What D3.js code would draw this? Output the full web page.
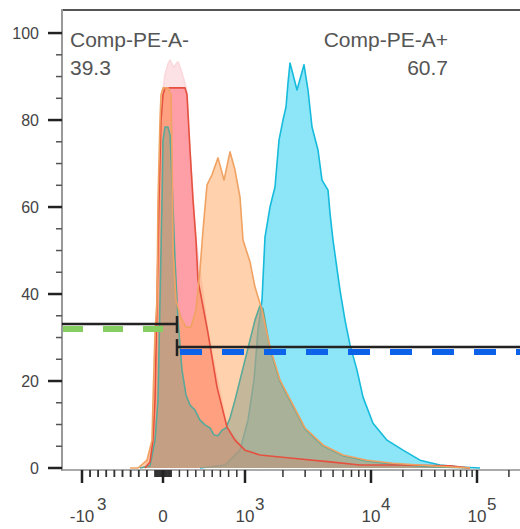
<!DOCTYPE html>
<html>
<head>
<meta charset="UTF-8">
<title>Comp-PE-A histogram overlay</title>
<style>
  body { margin: 0; background: #fff; }
  svg { display: block; font-family: "Liberation Sans", Arial, sans-serif; }
  .axis-lbl { fill: #444; font-size: 16px; }
  .x-lbl { fill: #444; font-size: 17px; }
  .note { fill: #555; font-size: 21px; }
  .hist { stroke-width: 1.6; stroke-linejoin: round; fill: none; }
</style>
</head>
<body>
<svg width="520" height="529"></svg>
<script src="https://cdn.jsdelivr.net/npm/d3@7/dist/d3.min.js"></script>
<script>
// histogram channels (display bins) and % of max
const paleX = [41.5, 45.5, 47.5, 49, 50.5, 51.5, 53, 54, 55, 56, 57, 58, 59.5, 61, 62.5, 64, 67, 73, 82.5, 91.5, 99];
const paleY = [0, 6.4, 38.6, 73.1, 86.9, 90.4, 92.9, 93.8, 92.9, 92.0, 92.9, 93.4, 91.5, 89.2, 86.5, 73.1, 52.4, 31.0, 9.4, 4.1, 0];

const tealX = [39, 44, 46.5, 48, 49, 50, 50.5, 51.5, 53, 54, 55, 56.5, 58, 60, 62, 64, 66.5, 69, 71.5, 74, 76, 78, 80, 82, 84, 86.5, 89, 91.5, 94, 96.5, 99, 100.5, 104, 109, 115.5, 121.5, 130.5, 140.5, 152.5, 165.5, 184, 204];
const tealY = [0, 0.5, 6.4, 15.6, 38.6, 61.6, 75.4, 78.4, 78.4, 76.6, 66.2, 47.8, 34.0, 22.5, 16.8, 14.5, 13.3, 11.0, 9.9, 9.2, 7.6, 7.4, 8.7, 9.2, 11.5, 15.6, 20.2, 24.8, 29.4, 34.0, 37.3, 36.6, 27.4, 19.9, 14.2, 9.0, 5.1, 2.8, 1.6, 0.9, 0.3, 0];

const blueX = [69, 81.5, 89, 93, 96, 98, 100, 101.5, 104, 106.5, 108.5, 110.5, 112, 113, 114, 117.5, 121, 123, 125, 128, 130, 133, 134, 135.5, 139, 141.5, 144, 147.5, 150.5, 155.5, 162.5, 170.5, 179, 189, 199, 209];
const blueY = [0, 0.7, 4.1, 11.0, 20.2, 31.7, 38.6, 53.1, 60.0, 64.6, 75.4, 80.0, 83.0, 88.5, 93.1, 86.9, 92.7, 86.9, 78.4, 73.1, 66.2, 63.9, 58.6, 52.4, 40.9, 34.0, 28.3, 22.5, 16.3, 10.3, 6.4, 4.1, 1.8, 0.7, 0.2, 0];

const orangeX = [34, 38, 42.5, 45, 45.5, 46.5, 47.5, 48, 49, 49.5, 50.5, 53, 54.5, 55, 55.5, 57, 59.5, 62, 64.5, 67, 69, 70.5, 72.5, 75, 78, 81, 84, 86.5, 89, 90.5, 94, 96.5, 100, 104, 109, 115.5, 121.5, 130.5, 140.5, 152.5, 165.5, 184, 204];
const orangeY = [0, 0, 1.8, 6.4, 15.6, 31.0, 38.6, 61.6, 80.0, 85.8, 87.4, 87.4, 85.8, 73.1, 50.1, 38.6, 34.5, 32.4, 32.4, 36.3, 45.5, 54.7, 65.1, 67.4, 71.3, 66.2, 72.7, 68.5, 62.3, 52.4, 47.4, 41.6, 36.3, 27.8, 20.2, 14.5, 9.2, 5.3, 3.0, 1.8, 1.1, 0.5, 0];

const redX = [41.5, 44, 45.5, 46.5, 47.5, 48.5, 49.5, 50.5, 51.5, 61.5, 62.5, 64, 65.5, 67, 68, 73, 77.5, 82.5, 86.5, 91.5, 99, 114, 134, 149, 169, 194, 204];
const redY = [0, 1.4, 6.4, 15.6, 38.6, 61.6, 80.0, 85.8, 87.4, 87.4, 85.8, 73.1, 61.6, 52.4, 43.2, 31.0, 18.6, 9.4, 6.4, 4.1, 3.0, 2.3, 1.4, 0.7, 0.7, 0.5, 0];

// gates: [from channel, to channel, % level]
const gateLeft = [0, 57.5, 33.1];
const gateRight = [57.5, 229, 27.8];
const gateNames = ["Comp-PE-A-", "Comp-PE-A+"];
const gatePct = ["39.3", "60.7"];

// x axis: decade marks (display units) and the channel each sits on
const decadeUnits = [-1, 0, 1, 2, 3];
const decadeChannels = [10, 50.5, 91.5, 154.5, 207.5];
const xMajor = [-1000, 0, 1000, 10000, 100000];
const xLabels = [["-10", "3"], ["0", ""], ["10", "3"], ["10", "4"], ["10", "5"]];
const yMajor = [0, 20, 40, 60, 80, 100];

const svg = d3.select("svg");
const x = d3.scaleLinear().domain([0, 229]).range([62, 520]);
const y = d3.scaleLinear().domain([0, 105.3]).range([468, 10]);
const chan = d3.scaleLinear().domain(decadeUnits).range(decadeChannels);
const toUnits = v => Math.abs(v) <= 1000 ? v / 1000 : Math.sign(v) * (1 + Math.log10(Math.abs(v) / 1000));
const xv = v => x(chan(toUnits(v)));

svg.append("clipPath").attr("id", "plot")
  .append("rect").attr("x", 62).attr("y", 10).attr("width", 458).attr("height", 459);

const area = d3.area().x(d => x(d[0])).y0(y(0)).y1(d => y(d[1]));
const line = d3.line().x(d => x(d[0])).y(d => y(d[1]));
const pts = (xs, ys) => xs.map((c, i) => [c, ys[i]]);
const pale = pts(paleX, paleY), teal = pts(tealX, tealY), blue = pts(blueX, blueY),
  orange = pts(orangeX, orangeY), red = pts(redX, redY);

const plot = svg.append("g").attr("clip-path", "url(#plot)");
const fillOf = (d, c, op) => plot.append("path").datum(d).attr("d", area).attr("fill", c).attr("fill-opacity", op);
const strokeOf = (d, c, w) => plot.append("path").datum(d).attr("class", "hist").attr("d", line).attr("stroke", c).attr("stroke-width", w);

fillOf(pale, "#fde2e5", 1);
strokeOf(pale, "#fad8dc", 1);
fillOf(blue, "#8de5f8", 1);
strokeOf(blue, "#16bbdc", 2);
fillOf(red, "#ff3c4a", 0.4);
fillOf(orange, "#ffa45c", 0.5);
fillOf(teal, "#8c9e87", 0.5);
strokeOf(teal, "#5aa898", 1.8);
strokeOf(red, "#e5503f", 1.5);
strokeOf(orange, "#f0a262", 1.6);

// frame
svg.append("line").attr("x1", 62).attr("x2", 520).attr("y1", 10).attr("y2", 10)
  .attr("stroke", "#555").attr("stroke-width", 2);
svg.append("line").attr("x1", 62).attr("x2", 520).attr("y1", 470).attr("y2", 470)
  .attr("stroke", "#aaa").attr("stroke-width", 2);
svg.append("line").attr("x1", 62).attr("x2", 62).attr("y1", 9).attr("y2", 471)
  .attr("stroke", "#999").attr("stroke-width", 2);

// gates
function gate(g, dashColor, dashFrom, dash, capAtEnd) {
  const gy = y(g[2]);
  svg.append("line").attr("x1", x(dashFrom)).attr("x2", x(g[1])).attr("y1", gy + 5).attr("y2", gy + 5)
    .attr("stroke", dashColor).attr("stroke-width", 6).attr("stroke-dasharray", dash);
  svg.append("line").attr("x1", x(g[0])).attr("x2", x(g[1])).attr("y1", gy).attr("y2", gy)
    .attr("stroke", "#222").attr("stroke-width", 2.5);
  const cx = capAtEnd ? x(g[1]) : x(g[0]);
  svg.append("line").attr("x1", cx).attr("x2", cx).attr("y1", gy - 8).attr("y2", gy + 9)
    .attr("stroke", "#222").attr("stroke-width", 2.5);
}
gate(gateLeft, "#86cd62", 0.5, "20 20", true);
gate(gateRight, "#0d62ea", 59, "22 20", false);

svg.append("text").attr("class", "note").attr("x", 70).attr("y", 47).text(gateNames[0]);
svg.append("text").attr("class", "note").attr("x", 70).attr("y", 75).text(gatePct[0]);
svg.append("text").attr("class", "note").attr("x", 448).attr("y", 47).attr("text-anchor", "end").text(gateNames[1]);
svg.append("text").attr("class", "note").attr("x", 448).attr("y", 75).attr("text-anchor", "end").text(gatePct[1]);

// y axis
const yMinor = d3.range(5, 101, 5).filter(v => !yMajor.includes(v));
svg.append("g").selectAll("line").data(yMinor).join("line")
  .attr("x1", 56).attr("x2", 62).attr("y1", d => y(d)).attr("y2", d => y(d))
  .attr("stroke", "#555").attr("stroke-width", 1.5);
svg.append("g").selectAll("line").data(yMajor).join("line")
  .attr("x1", 48).attr("x2", 62).attr("y1", d => y(d)).attr("y2", d => y(d))
  .attr("stroke", "#222").attr("stroke-width", 2.5);
svg.append("g").selectAll("text").data(yMajor).join("text")
  .attr("class", "axis-lbl").attr("x", 39).attr("y", d => y(d) + 6)
  .attr("text-anchor", "end").text(d => d);

// x axis
const xMinor = [];
[10, 100].forEach(d => d3.range(1, 10).forEach(k => { xMinor.push(k * d, -k * d); }));
[1000, 10000].forEach(d => d3.range(2, 10).forEach(k => xMinor.push(k * d)));
d3.range(2, 10).forEach(k => xMinor.push(-k * 100));
xMinor.push(200000);
svg.append("g").selectAll("line").data(xMinor).join("line")
  .attr("x1", d => xv(d)).attr("x2", d => xv(d)).attr("y1", 470).attr("y2", 477)
  .attr("stroke", "#333").attr("stroke-width", 1.5);
svg.append("g").selectAll("line").data(xMajor).join("line")
  .attr("x1", d => xv(d)).attr("x2", d => xv(d)).attr("y1", 470).attr("y2", 483)
  .attr("stroke", "#222").attr("stroke-width", 2.5);
const xl = svg.append("g").selectAll("g").data(xMajor).join("g")
  .attr("transform", d => `translate(${xv(d)},522)`);
xl.append("text").attr("class", "x-lbl").attr("text-anchor", "middle")
  .text((d, i) => xLabels[i][0]);
xl.append("text").attr("class", "x-lbl")
  .attr("x", (d, i) => xLabels[i][0].length > 1 ? (xLabels[i][0].length === 3 ? 15 : 10) : 0)
  .attr("y", -12).text((d, i) => xLabels[i][1]);
</script>
</body>
</html>
